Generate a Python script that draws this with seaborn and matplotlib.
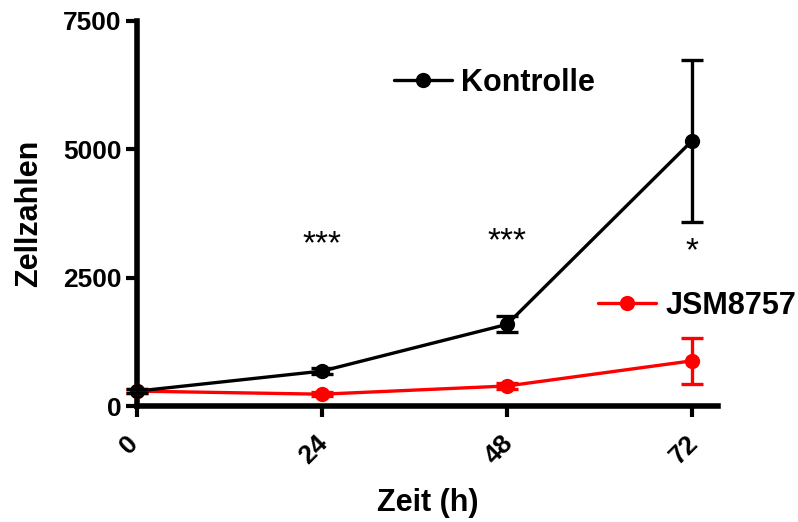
import matplotlib
matplotlib.use('Agg')
import matplotlib.pyplot as plt
import matplotlib.transforms as mtransforms
from matplotlib.lines import Line2D
import seaborn as sns
import pandas as pd

# ---- data ----
time_h = [0, 24, 48, 72]
kontrolle_mean = [290, 680, 1590, 5165]
kontrolle_sem = [40, 60, 155, 1580]
jsm_mean = [290, 230, 390, 880]
jsm_sem = [40, 40, 50, 450]
groups = ['Kontrolle', 'JSM8757']
group_colors = ['#000000', '#FF0000']
signif_labels = ['***', '***', '*']
signif_x = [24, 48, 72]
signif_y = [3150, 3190, 3000]
y_ticks = [0, 2500, 5000, 7500]
x_ticks = [0, 24, 48, 72]

sns.set_theme(style='ticks')
plt.rcParams['font.family'] = ['Liberation Sans', 'DejaVu Sans']
plt.rcParams['font.weight'] = 'bold'
plt.rcParams['text.color'] = 'black'
plt.rcParams['axes.labelcolor'] = 'black'
plt.rcParams['xtick.color'] = 'black'
plt.rcParams['ytick.color'] = 'black'

palette = dict(zip(groups, group_colors))
df = pd.DataFrame({
    'Zeit': time_h * 2,
    'Zellzahl': kontrolle_mean + jsm_mean,
    'Gruppe': [groups[0]] * len(time_h) + [groups[1]] * len(time_h),
})

fig = plt.figure(figsize=(7.98, 5.22), dpi=100)
ax = fig.add_axes([137 / 798, 1 - 406 / 522, (718 - 137) / 798, (406 - 21) / 522])

sns.lineplot(data=df, x='Zeit', y='Zellzahl', hue='Gruppe',
             hue_order=['JSM8757', 'Kontrolle'], palette=palette,
             marker='o', markersize=11, markeredgewidth=0, linewidth=2.4,
             legend=False, ax=ax, clip_on=False, zorder=3)

for mean, sem, grp in [(jsm_mean, jsm_sem, 'JSM8757'), (kontrolle_mean, kontrolle_sem, 'Kontrolle')]:
    ax.errorbar(time_h, mean, yerr=sem, fmt='none', ecolor=palette[grp],
                elinewidth=2.4, capsize=8, capthick=2.4, clip_on=False, zorder=3)

ax.set_ylim(0, 7500)
ax.set_xlim(0, 72 * 581 / 555)
ax.set_yticks(y_ticks)
ax.set_xticks(x_ticks)
ax.set_xticklabels([str(t) for t in x_ticks], rotation=45, ha='center', va='top')

for s in ['top', 'right']:
    ax.spines[s].set_visible(False)
for s in ['left', 'bottom']:
    ax.spines[s].set_linewidth(4)
    ax.spines[s].set_color('black')

ax.tick_params(axis='both', width=3, length=8, labelsize=19, colors='black')
ax.tick_params(axis='y', pad=3)
ax.tick_params(axis='x', pad=10)
offset = mtransforms.ScaledTranslation(-8 / 100, 0, fig.dpi_scale_trans)
for lab in ax.get_xticklabels():
    lab.set_fontweight('bold')
    lab.set_transform(lab.get_transform() + offset)
for lab in ax.get_yticklabels():
    lab.set_fontweight('bold')

ax.set_xlabel('Zeit (h)', fontsize=22, fontweight='bold', labelpad=14)
ax.set_ylabel('Zellzahlen', fontsize=22, fontweight='bold', labelpad=14)

for lab, x, y in zip(signif_labels, signif_x, signif_y):
    ax.text(x, y, lab, ha='center', va='center', fontsize=24, fontweight='normal', color='black')

# legends placed separately
for grp, pos in [('Kontrolle', (394 / 798, 1 - 83 / 522)), ('JSM8757', (598 / 798, 1 - 306 / 522))]:
    h = Line2D([], [], color=palette[grp], marker='o', markersize=11, markeredgewidth=0, linewidth=2.4)
    leg = fig.legend([h], [grp], loc='center left', bbox_to_anchor=pos, frameon=False,
                     borderpad=0, borderaxespad=0, handlelength=1.9, handletextpad=0.3,
                     prop={'size': 22, 'weight': 'bold'})
    for t in leg.get_texts():
        t.set_color('black')

fig.savefig('out.png', dpi=100)
